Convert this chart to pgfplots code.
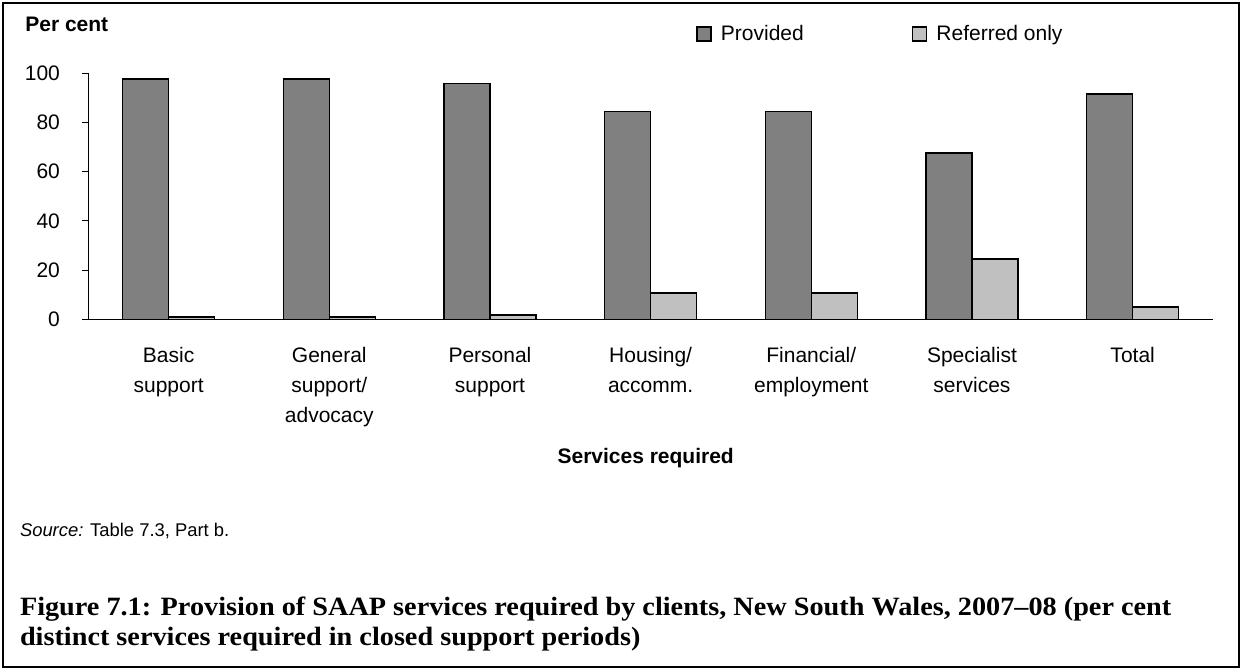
\documentclass[border=0pt]{standalone}
\usepackage{pgfplots}
\pgfplotsset{compat=1.18}
\usepackage{fontspec}
\setmainfont{Liberation Sans}
\newfontfamily\capfont[FakeStretch=1.07]{Liberation Serif}
\definecolor{provided}{HTML}{808080}
\definecolor{referred}{HTML}{C0C0C0}
\begin{document}
\begin{tikzpicture}
\useasboundingbox (0,0) rectangle (621pt,-335pt);
\draw[line width=1pt] (1.5pt,-1.5pt) rectangle (619.5pt,-333.5pt);
\begin{axis}[
  at={(44.15pt,-159.65pt)}, anchor=south west,
  width=562.35pt, height=123pt, scale only axis,
  ymin=0, ymax=100, xmin=-0.5, xmax=6.5,
  axis lines*=left,
  axis line style={line width=0.5pt, black},
  ytick={0,20,...,100},
  xtick={0,...,6},
  xticklabels={{Basic\\support},{General\\support/\\advocacy},{Personal\\support},{Housing/\\accomm.},{Financial/\\employment},{Specialist\\services},{Total}},
  x tick style={draw=none},
  y tick style={black, line width=0.5pt},
  tick align=outside,
  major tick length=3pt,
  /pgf/number format/assume math mode=true,
  tick label style={font=\fontsize{10.5}{15}\selectfont},
  xticklabel style={align=center, anchor=north, inner sep=0pt, yshift=-11pt},
  yticklabel style={anchor=east, inner sep=0pt, xshift=-11pt},
  ybar=0pt, bar width=23pt,
  every axis plot/.append style={legend image code/.code={\draw[#1, line width=0.8pt] (0pt,-3.5pt) rectangle (7pt,3.5pt);}},
  legend columns=2,
  legend style={draw=none, fill=none, at={(0.5403,1.16)}, anchor=west, inner sep=0pt,
    font=\fontsize{10.5}{12}\selectfont,
    nodes={inner sep=0pt},
    /tikz/every odd column/.append style={column sep=4.5pt},
    /tikz/every even column/.append style={column sep=54pt}},
  xlabel={\bfseries Services required},
  xlabel style={at={(axis description cs:0.4956,-0.565)}, anchor=center, font=\fontsize{10.5}{12}\selectfont},
  ylabel={\bfseries Per cent},
  ylabel style={rotate=-90, at={(axis description cs:-0.0563,1.169)}, anchor=base west, inner sep=0pt, font=\fontsize{10.5}{12}\selectfont},
]
\addplot[fill=provided, draw=black, line width=0.8pt] coordinates {(0,97.6) (1,97.6) (2,95.9) (3,84.4) (4,84.4) (5,67.5) (6,91.7)};
\addplot[fill=referred, draw=black, line width=0.8pt] coordinates {(0,1.0) (1,1.0) (2,1.8) (3,10.6) (4,10.6) (5,24.5) (6,5.0)};
\legend{Provided, Referred only}
\end{axis}
\node[anchor=base west, inner sep=0pt, font=\fontsize{9.2}{11}\selectfont] at (9.8pt,-268.3pt) {\textit{Source:} Table 7.3, Part b.};
\node[anchor=base west, inner sep=0pt, align=left, font=\capfont\bfseries\fontsize{13.2}{15}\selectfont] at (9.8pt,-322.5pt) {Figure 7.1: Provision of SAAP services required by clients, New South Wales, 2007–08 (per cent\\distinct services required in closed support periods)};
\end{tikzpicture}
\end{document}
